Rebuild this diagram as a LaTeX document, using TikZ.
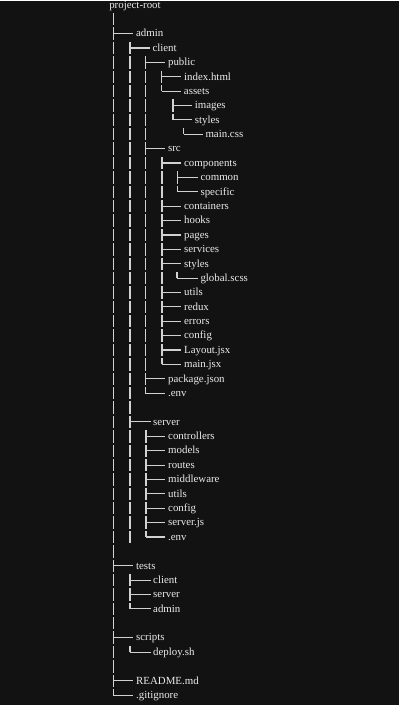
\documentclass[tikz,border=0pt]{standalone}
\usepackage{fontspec}
\setmainfont{Liberation Serif}
\definecolor{bg}{HTML}{121212}
\definecolor{ink}{HTML}{EAEAEA}
\definecolor{rule}{HTML}{D2D2D2}
\begin{document}
\begin{tikzpicture}[x=1pt,y=-1pt,
  entry/.style={anchor=west, inner xsep=2.5pt, inner ysep=0pt,
    text height=9pt, text depth=2.4pt, text=ink,
    font=\fontsize{10.9}{12}\selectfont},
  spine/.style={draw=rule, line width=1.6pt, dash pattern=on 12.4pt off 2.01pt},
  branch/.style={draw=rule, line width=1.1pt}]
\fill[bg] (0,0) rectangle (400,705);
\begin{scope}[y=-14.41pt, yshift=-3.5pt]
% ---- root level
\node[entry] (root) at (106.8,0.06) {project-root};
\coordinate (rootS) at (113.6,0.57);
\node[entry] (admin) at (133.7,2) {admin};
\node[entry] (tests) at (133.7,39) {tests};
\node[entry] (scripts) at (133.7,44) {scripts};
\node[entry] (readme) at (133.7,47) {README.md};
\node[entry] (gitignore) at (133.7,48) {.gitignore};
\draw[spine] (rootS) -- (rootS |- gitignore.west);
\foreach \n in {admin,tests,scripts,readme,gitignore}
  \draw[branch] (rootS |- \n.west) -- (\n.west);

% ---- admin
\coordinate (adminS) at (130,2.57);
\node[entry] (aclient) at (150.1,3) {client};
\node[entry] (aserver) at (150.8,29) {server};

% ---- admin/client
\coordinate (clientS) at (145.6,3.57);
\node[entry] (public) at (165.7,4) {public};
\node[entry] (src) at (165.7,10) {src};
\node[entry] (pkg) at (165.8,26) {package.json};
\node[entry] (cenv) at (165.8,27) {.env};
\draw[spine] (clientS) -- (clientS |- cenv.west);
\foreach \n in {public,src,pkg,cenv}
  \draw[branch] (clientS |- \n.west) -- (\n.west);

% ---- admin/client/public
\coordinate (publicS) at (161.9,4.57);
\node[entry] (index) at (181.8,5) {index.html};
\node[entry] (assets) at (181.6,6) {assets};
\draw[spine] (publicS) -- (publicS |- assets.west);
\foreach \n in {index,assets}
  \draw[branch] (publicS |- \n.west) -- (\n.west);

\coordinate (assetsS) at (173.3,6.57);
\node[entry] (images) at (192.5,7) {images};
\node[entry] (pstyles) at (192.5,8) {styles};
\draw[spine] (assetsS) -- (assetsS |- pstyles.west);
\foreach \n in {images,pstyles}
  \draw[branch] (assetsS |- \n.west) -- (\n.west);

\coordinate (pstylesS) at (184,8.57);
\node[entry] (maincss) at (203.2,9) {main.css};
\draw[spine] (pstylesS) -- (pstylesS |- maincss.west);
\draw[branch] (pstylesS |- maincss.west) -- (maincss.west);

% ---- admin/client/src
\coordinate (srcS) at (162.2,10.57);
\node[entry] (components) at (181.8,11) {components};
\node[entry] (containers) at (181.8,14) {containers};
\node[entry] (hooks) at (181.8,15) {hooks};
\node[entry] (pages) at (181.8,16) {pages};
\node[entry] (services) at (181.8,17) {services};
\node[entry] (sstyles) at (181.8,18) {styles};
\node[entry] (utils) at (181.8,20) {utils};
\node[entry] (redux) at (181.8,21) {redux};
\node[entry] (errors) at (181.8,22) {errors};
\node[entry] (config) at (181.8,23) {config};
\node[entry] (layout) at (181.8,24) {Layout.jsx};
\node[entry] (mainjsx) at (181.8,25) {main.jsx};
\draw[spine] (srcS) -- (srcS |- mainjsx.west);
\foreach \n in {components,containers,hooks,pages,services,sstyles,utils,redux,errors,config,layout,mainjsx}
  \draw[branch] (srcS |- \n.west) -- (\n.west);

\coordinate (compS) at (177.7,11.57);
\node[entry] (common) at (198.2,12) {common};
\node[entry] (specific) at (198.2,13) {specific};
\draw[spine] (compS) -- (compS |- specific.west);
\foreach \n in {common,specific}
  \draw[branch] (compS |- \n.west) -- (\n.west);

\coordinate (sstylesS) at (177.5,18.57);
\node[entry] (globalscss) at (198.2,19) {global.scss};
\draw[spine] (sstylesS) -- (sstylesS |- globalscss.west);
\draw[branch] (sstylesS |- globalscss.west) -- (globalscss.west);

% ---- admin/server
\coordinate (serverS) at (146.2,29.57);
\node[entry] (controllers) at (165.8,30) {controllers};
\node[entry] (models) at (165.8,31) {models};
\node[entry] (routes) at (165.8,32) {routes};
\node[entry] (middleware) at (165.8,33) {middleware};
\node[entry] (sutils) at (165.8,34) {utils};
\node[entry] (sconfig) at (165.8,35) {config};
\node[entry] (serverjs) at (165.8,36) {server.js};
\node[entry] (senv) at (165.8,37) {.env};
\draw[spine] (serverS) -- (serverS |- senv.west);
\foreach \n in {controllers,models,routes,middleware,sutils,sconfig,serverjs,senv}
  \draw[branch] (serverS |- \n.west) -- (\n.west);

% admin spine runs on through the server block
\draw[spine] (adminS) -- ([yshift=-6.2pt]adminS |- senv.west);
\foreach \n in {aclient,aserver}
  \draw[branch] (adminS |- \n.west) -- (\n.west);

% ---- tests
\coordinate (testsS) at (130.5,39.57);
\node[entry] (tclient) at (150.8,40) {client};
\node[entry] (tserver) at (150.8,41) {server};
\node[entry] (tadmin) at (150.8,42) {admin};
\draw[spine] (testsS) -- (testsS |- tadmin.west);
\foreach \n in {tclient,tserver,tadmin}
  \draw[branch] (testsS |- \n.west) -- (\n.west);

% ---- scripts
\coordinate (scriptsS) at (130.2,44.57);
\node[entry] (deploy) at (150.8,45) {deploy.sh};
\draw[spine] (scriptsS) -- (scriptsS |- deploy.west);
\draw[branch] (scriptsS |- deploy.west) -- (deploy.west);
\end{scope}
\end{tikzpicture}
\end{document}
